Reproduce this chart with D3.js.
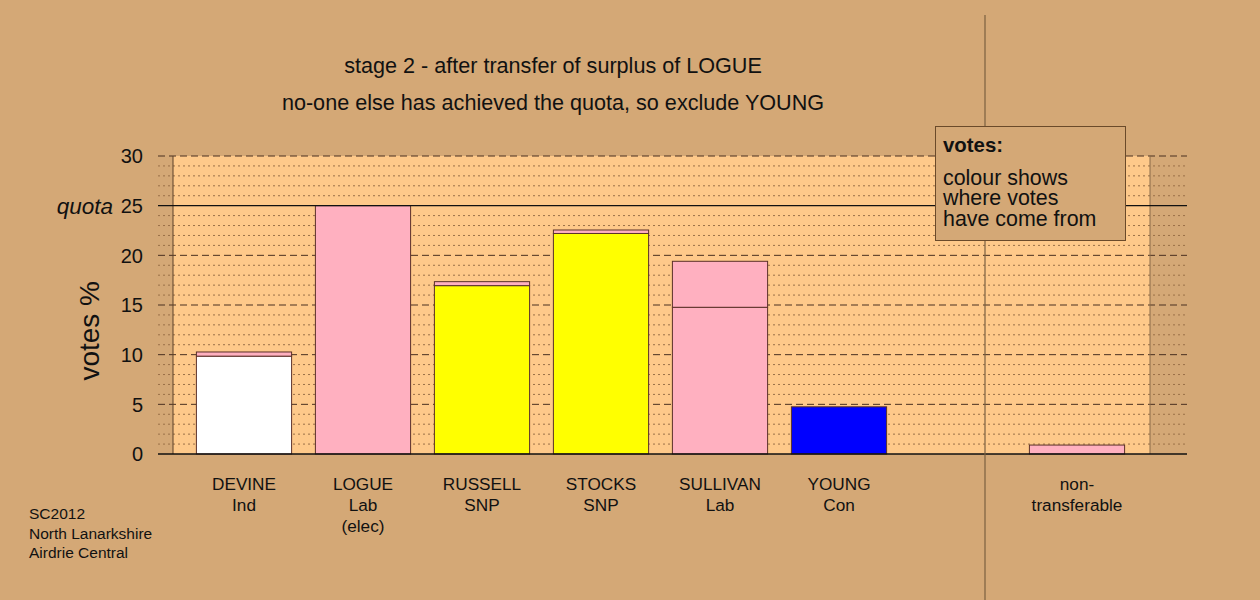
<!DOCTYPE html>
<html><head><meta charset="utf-8">
<script src="https://cdn.jsdelivr.net/npm/d3@7"></script>
<style>
html,body{margin:0;padding:0;background:#d4a876;}
svg{display:block;font-family:"Liberation Sans",Arial,sans-serif;}
</style></head>
<body>
<svg id="c" width="1260" height="600"></svg>
<script>
// ---- data ----
const slots = ["DEVINE","LOGUE","RUSSELL","STOCKS","SULLIVAN","YOUNG","gap","NT"];
const labelLine1 = ["DEVINE","LOGUE","RUSSELL","STOCKS","SULLIVAN","YOUNG","","non-"];
const labelLine2 = ["Ind","Lab","SNP","SNP","Lab","Con","","transferable"];
const labelLine3 = ["","(elec)","","","","","",""];
const parties = ["Ind","Lab","SNP","SNP","Lab","Con",null,null];
const ownVotes = [9.85, 25.0, 16.95, 22.2, 14.77, 4.75, null, 0];
const fromLogue = [0.42, 0, 0.4, 0.35, 4.63, 0, null, 0.9];
const yTicks = [0,5,10,15,20,25,30];
const quota = 25;
const titleLines = ["stage 2 - after transfer of surplus of LOGUE",
                    "no-one else has achieved the quota, so exclude YOUNG"];
const legendLines = ["colour shows","where votes","have come from"];
const footer = ["SC2012","North Lanarkshire","Airdrie Central"];
const partyColour = {Ind:"#ffffff", Lab:"#ffb0c0", SNP:"#ffff00", Con:"#0000ff"};
const logueColour = partyColour["Lab"];

// ---- drawing ----
const svg = d3.select("#c");
const y = d3.scaleLinear().domain([0,30]).range([454,156]);
const x = d3.scaleBand().domain(slots).range([184.5,1136.5]).paddingInner(0.2).paddingOuter(0.1);
const ink = "#111";

// panel
svg.append("rect").attr("x",173).attr("y",y(30)).attr("width",1150-173).attr("height",y(0)-y(30))
  .attr("fill","#fec98a");

// minor grid
const minor = d3.range(1,30).filter(v=>v%5!==0);
svg.append("g").selectAll("line").data(minor).join("line")
  .attr("x1",158).attr("x2",1187).attr("y1",d=>y(d)).attr("y2",d=>y(d))
  .attr("stroke","#9a7048").attr("stroke-width",1).attr("stroke-dasharray","2,3");
// major grid
svg.append("g").selectAll("line").data(yTicks.filter(v=>v!==0 && v!==quota)).join("line")
  .attr("x1",158).attr("x2",1187).attr("y1",d=>y(d)).attr("y2",d=>y(d))
  .attr("stroke","#4a3020").attr("stroke-width",1).attr("stroke-dasharray","7,4");

// panel sides
svg.append("line").attr("x1",173).attr("x2",173).attr("y1",y(30)).attr("y2",y(0)).attr("stroke","#5a4028");
svg.append("line").attr("x1",1150).attr("x2",1150).attr("y1",y(30)).attr("y2",y(0)).attr("stroke","#8a6a48");

// bars
const segs = [];
slots.forEach((s,i)=>{
  if(ownVotes[i]===null) return;
  let base = 0;
  if(ownVotes[i]>0){ segs.push({s, y0:base, y1:base+ownVotes[i], c:partyColour[parties[i]]}); base+=ownVotes[i]; }
  if(fromLogue[i]>0){ segs.push({s, y0:base, y1:base+fromLogue[i], c:logueColour}); base+=fromLogue[i]; }
});
svg.append("g").selectAll("rect").data(segs).join("rect")
  .attr("x",d=>x(d.s)).attr("width",x.bandwidth())
  .attr("y",d=>y(d.y1)).attr("height",d=>y(d.y0)-y(d.y1))
  .attr("fill",d=>d.c).attr("stroke","#5a3028").attr("stroke-width",1);

// quota and baseline
svg.append("line").attr("x1",158).attr("x2",1187).attr("y1",y(quota)).attr("y2",y(quota)).attr("stroke","#111").attr("stroke-width",1.3);
svg.append("line").attr("x1",158).attr("x2",1187).attr("y1",y(0)).attr("y2",y(0)).attr("stroke","#111").attr("stroke-width",1.3);

// y axis labels
svg.append("g").selectAll("text").data(yTicks).join("text")
  .attr("x",143).attr("y",d=>y(d)).attr("dy","0.36em").attr("text-anchor","end")
  .attr("font-size",20).attr("fill",ink).text(d=>d);
svg.append("text").attr("x",113).attr("y",y(quota)).attr("dy","0.36em").attr("text-anchor","end")
  .attr("font-size",22.5).attr("font-style","italic").attr("fill",ink).text("quota");
svg.append("text").attr("transform","translate(99,"+y(12.4)+") rotate(-90)").attr("text-anchor","middle")
  .attr("font-size",28).attr("fill",ink).text("votes %");

// separator
svg.append("line").attr("x1",985).attr("x2",985).attr("y1",15).attr("y2",600).attr("stroke","#7a6040").attr("stroke-width",1.2);

// category labels
const lab = svg.append("g").attr("font-size",17.2).attr("fill",ink).attr("text-anchor","middle");
slots.forEach((s,i)=>{
  const cx = x(s)+x.bandwidth()/2;
  [labelLine1[i],labelLine2[i],labelLine3[i]].forEach((t,j)=>{
    if(t) lab.append("text").attr("x",cx).attr("y",490+j*21).text(t);
  });
});

// titles
titleLines.forEach((t,i)=>{
  svg.append("text").attr("x",553).attr("y",73+i*37).attr("text-anchor","middle")
    .attr("font-size",21.6).attr("fill",ink).text(t);
});

// legend
svg.append("rect").attr("x",935.5).attr("y",126.5).attr("width",190).attr("height",114)
  .attr("fill","#d4a876").attr("stroke","#6a4a2a").attr("stroke-width",1);
svg.append("text").attr("x",943).attr("y",152).attr("font-size",20.4).attr("font-weight","bold").attr("fill",ink).text("votes:");
legendLines.forEach((t,i)=>{
  svg.append("text").attr("x",943).attr("y",184.5+i*20.5).attr("font-size",21.4).attr("fill",ink).text(t);
});

// footer
footer.forEach((t,i)=>{
  svg.append("text").attr("x",29).attr("y",519+i*19.5).attr("font-size",15.5).attr("fill",ink).text(t);
});
</script>
</body></html>
